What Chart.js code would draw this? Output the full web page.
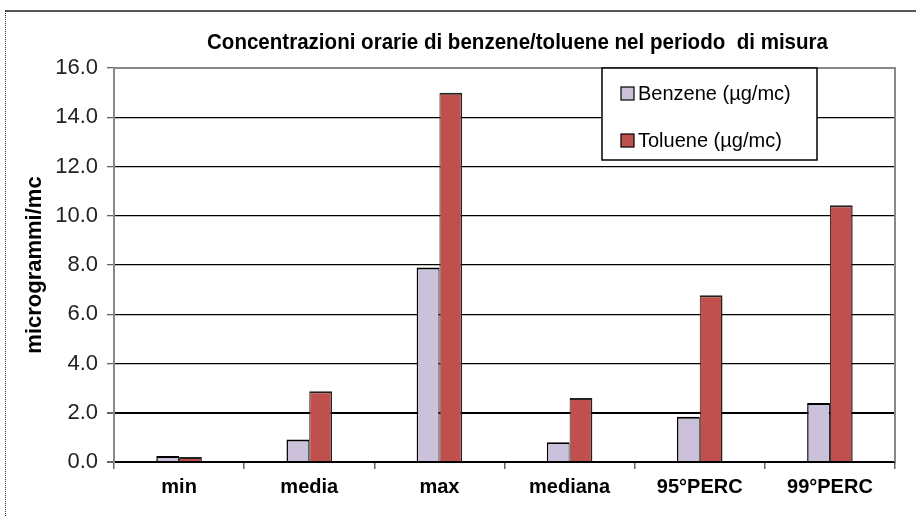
<!DOCTYPE html>
<html>
<head>
<meta charset="utf-8">
<title>Concentrazioni orarie di benzene/toluene</title>
<script src="https://cdn.jsdelivr.net/npm/chart.js@4/dist/chart.umd.min.js"></script>
<style>
    body { margin: 0; background: #fff; overflow: hidden; }
    .wrap { position: relative; width: 916px; height: 516px; }
    .frame {
        position: absolute; left: 5px; top: 10px; width: 1000px; height: 600px;
        border-top: 2px solid #555; border-left: 1px dotted #333;
    }
    canvas { position: absolute; left: 0; top: 0; }
</style>
</head>
<body>
<div class="wrap">
    <div class="frame"></div>
    <canvas id="chart" width="916" height="516"></canvas>
</div>
<script>
// Data
const categories = ['min', 'media', 'max', 'mediana', '95°PERC', '99°PERC'];
const benzene = [0.24, 0.91, 7.9, 0.8, 1.84, 2.4];
const toluene = [0.2, 2.87, 15.0, 2.6, 6.77, 10.43];
const seriesNames = ['Benzene (µg/mc)', 'Toluene (µg/mc)'];
const yTicks = [0, 2, 4, 6, 8, 10, 12, 14, 16];

const FONT = "'Liberation Sans', Arial, sans-serif";
const titleText = 'Concentrazioni orarie di benzene/toluene nel periodo  di misura';

// title, plot frame and in-plot legend (Excel style)
const excelDecor = {
    id: 'excelDecor',
    afterDraw(chart) {
        const ctx = chart.ctx;
        const area = chart.chartArea;

        // gray frame on top and right of plot area
        ctx.save();
        ctx.strokeStyle = '#888';
        ctx.lineWidth = 2;
        ctx.beginPath();
        ctx.moveTo(area.left, area.top);
        ctx.lineTo(area.right, area.top);
        ctx.lineTo(area.right, area.bottom);
        ctx.stroke();
        ctx.restore();

        // title (narrow, like the original)
        ctx.save();
        ctx.font = 'bold 22px ' + FONT;
        ctx.fillStyle = '#000';
        ctx.textAlign = 'center';
        ctx.textBaseline = 'middle';
        const cx = (area.left + area.right) / 2 + 13;
        const w = ctx.measureText(titleText).width;
        ctx.translate(cx, area.top - 25);
        ctx.scale(Math.min(1, 621 / w), 1);
        ctx.fillText(titleText, 0, 0);
        ctx.restore();

        // legend box
        const bx = area.right - 293, by = area.top, bw = 215, bh = 92;
        ctx.save();
        ctx.fillStyle = '#fff';
        ctx.fillRect(bx, by, bw, bh);
        ctx.strokeStyle = '#000';
        ctx.lineWidth = 1.5;
        ctx.strokeRect(bx, by, bw, bh);
        ctx.font = '20px ' + FONT;
        ctx.textBaseline = 'middle';
        chart.data.datasets.forEach((ds, i) => {
            const yy = by + 25 + i * 47;
            ctx.fillStyle = ds.backgroundColor;
            ctx.fillRect(bx + 19, yy - 6, 13, 13);
            ctx.strokeStyle = '#000';
            ctx.lineWidth = 1.2;
            ctx.strokeRect(bx + 19, yy - 6, 13, 13);
            ctx.fillStyle = '#000';
            ctx.fillText(ds.label, bx + 36, yy + 1);
        });
        ctx.restore();
    }
};

const ctx = document.getElementById('chart').getContext('2d');

const chart = new Chart(ctx, {
    type: 'bar',
    data: {
        labels: categories,
        datasets: [
            {
                label: seriesNames[0],
                data: benzene,
                backgroundColor: '#CCC1DA',
                borderColor: '#000',
                borderWidth: { top: 2, left: 1.5, right: 1, bottom: 0 },
                borderSkipped: false,
                categoryPercentage: 0.35,
                barPercentage: 1
            },
            {
                label: seriesNames[1],
                data: toluene,
                backgroundColor: '#C0504D',
                borderColor: '#222',
                borderWidth: { top: 2, left: 1, right: 1.5, bottom: 0 },
                borderSkipped: false,
                categoryPercentage: 0.35,
                barPercentage: 1
            }
        ]
    },
    options: {
        responsive: false,
        animation: false,
        devicePixelRatio: 1,
        layout: {
            padding: { top: 68, right: 21, left: 22, bottom: 0 }
        },
        scales: {
            x: {
                afterFit: (scale) => { scale.height = 54; },
                border: { color: '#000', width: 2 },
                grid: {
                    offset: true,
                    drawOnChartArea: false,
                    drawTicks: true,
                    tickLength: 7,
                    tickColor: '#666',
                    lineWidth: 1.5
                },
                ticks: {
                    color: '#000',
                    padding: 6,
                    font: { family: FONT, size: 20, weight: 'bold' }
                }
            },
            y: {
                min: 0,
                max: 16,
                afterFit: (scale) => { scale.width = 92; },
                afterBuildTicks: (scale) => {
                    scale.ticks = yTicks.map(v => ({ value: v }));
                },
                border: { color: '#888', width: 2 },
                grid: {
                    color: (c) => (c.tick && c.tick.value === 16 ? 'rgba(0,0,0,0)' : '#000'),
                    lineWidth: (c) => (c.tick && (c.tick.value === 2 || c.tick.value === 0) ? 2 : 1.3),
                    tickLength: 7,
                    tickColor: '#666'
                },
                ticks: {
                    color: '#222',
                    padding: 9,
                    font: { family: FONT, size: 22 },
                    callback: (v) => Number(v).toFixed(1)
                },
                title: {
                    display: true,
                    text: 'microgrammi/mc',
                    color: '#000',
                    padding: 0,
                    font: { family: FONT, size: 22, weight: 'bold' }
                }
            }
        },
        plugins: {
            legend: { display: false },
            title: { display: false },
            tooltip: { enabled: false }
        }
    },
    plugins: [excelDecor]
});
</script>
</body>
</html>
